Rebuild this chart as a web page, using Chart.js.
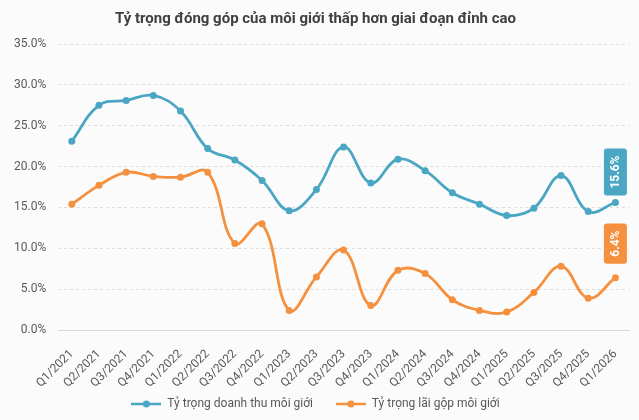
<!DOCTYPE html>
<html>
<head>
<meta charset="utf-8">
<script src="https://cdn.jsdelivr.net/npm/chart.js@4"></script>
<style>
  body { margin: 0; background: #fbfbfb; }
  #wrap { width: 639px; height: 420px; }
</style>
</head>
<body>
<div id="wrap"><canvas id="brokerChart"></canvas></div>
<script>
const quarters = ["Q1/2021", "Q2/2021", "Q3/2021", "Q4/2021", "Q1/2022", "Q2/2022", "Q3/2022", "Q4/2022",
  "Q1/2023", "Q2/2023", "Q3/2023", "Q4/2023", "Q1/2024", "Q2/2024", "Q3/2024", "Q4/2024",
  "Q1/2025", "Q2/2025", "Q3/2025", "Q4/2025", "Q1/2026"];
const revenueShare = [23.1, 27.5, 28.1, 28.7, 26.8, 22.2, 20.8, 18.3, 14.6, 17.2, 22.4, 18.0,
  20.9, 19.5, 16.8, 15.4, 14.0, 14.9, 18.9, 14.5, 15.6];
const grossProfitShare = [15.4, 17.7, 19.3, 18.8, 18.7, 19.3, 10.6, 13.0, 2.4, 6.5, 9.8, 3.0,
  7.3, 6.9, 3.7, 2.4, 2.2, 4.6, 7.8, 3.9, 6.4];

const blue = "#4aa6c2";
const orange = "#f5903f";

// legend icon: short line with a dot in the middle
function legendIcon(color) {
  const c = document.createElement("canvas");
  c.width = 30; c.height = 10;
  const g = c.getContext("2d");
  g.strokeStyle = color;
  g.lineWidth = 2.5;
  g.beginPath(); g.moveTo(0, 5); g.lineTo(30, 5); g.stroke();
  g.fillStyle = color;
  g.beginPath(); g.arc(15, 5, 3.5, 0, Math.PI * 2); g.fill();
  return c;
}

// rotated value box above the last point
const lastLabel = {
  id: "lastLabel",
  afterDatasetsDraw(chart) {
    const ctx = chart.ctx;
    chart.data.datasets.forEach((ds, i) => {
      const meta = chart.getDatasetMeta(i);
      const pt = meta.data[meta.data.length - 1];
      const text = ds.data[ds.data.length - 1].toFixed(1) + "%";
      ctx.save();
      ctx.font = "bold 12px Roboto";
      const tw = ctx.measureText(text).width;
      const w = 23, h = tw + 14;
      const gap = i === 0 ? 7 : 14;
      const x = pt.x - w / 2, y = pt.y - gap - h;
      ctx.fillStyle = ds.borderColor;
      ctx.beginPath();
      ctx.roundRect(x, y, w, h, 3);
      ctx.fill();
      ctx.translate(pt.x, y + h / 2);
      ctx.rotate(-Math.PI / 2);
      ctx.fillStyle = "#ffffff";
      ctx.textAlign = "center";
      ctx.textBaseline = "middle";
      ctx.fillText(text, 0, 1);
      ctx.restore();
    });
  }
};

const ctx = document.getElementById("brokerChart").getContext("2d");
new Chart(ctx, {
  type: "line",
  data: {
    labels: quarters,
    datasets: [
      {
        label: "Tỷ trọng doanh thu môi giới",
        data: revenueShare,
        borderColor: blue,
        backgroundColor: blue,
      },
      {
        label: "Tỷ trọng lãi gộp môi giới",
        data: grossProfitShare,
        borderColor: orange,
        backgroundColor: orange,
      },
    ],
  },
  options: {
    responsive: true,
    maintainAspectRatio: false,
    animation: false,
    layout: { padding: { left: 2, right: 10, top: 4, bottom: 0 } },
    elements: {
      line: { borderWidth: 2.8, tension: 0.4 },
      point: { radius: 3.5, pointStyle: "circle", borderWidth: 0 },
    },
    plugins: {
      title: {
        display: true,
        text: "Tỷ trọng đóng góp của môi giới thấp hơn giai đoạn đỉnh cao",
        color: "#404040",
        font: { family: "Roboto", size: 15, weight: "bold" },
        padding: { top: 6, bottom: 16 },
      },
      legend: {
        position: "bottom",
        labels: {
          usePointStyle: true,
          pointStyleWidth: 30,
          color: "#595959",
          font: { family: "Roboto", size: 12 },
          padding: 8,
          generateLabels(chart) {
            return chart.data.datasets.map((ds, i) => ({
              text: ds.label + (i === 0 ? "     " : ""),
              fillStyle: ds.borderColor,
              strokeStyle: ds.borderColor,
              fontColor: "#595959",
              pointStyle: legendIcon(ds.borderColor),
              datasetIndex: i,
              hidden: false,
            }));
          },
        },
      },
      tooltip: { enabled: false },
    },
    scales: {
      x: {
        offset: true,
        grid: { display: false },
        border: { color: "#d9d9d9" },
        afterFit(scale) { scale.height = 60; },
        ticks: {
          color: "#595959",
          font: { family: "Roboto", size: 12 },
          maxRotation: 45,
          minRotation: 45,
          autoSkip: false,
          padding: 9,
        },
      },
      y: {
        min: 0,
        max: 35,
        border: { display: false, dash: [3, 3] },
        grid: { color: "#dcdcdc", tickLength: 0 },
        ticks: {
          stepSize: 5,
          color: "#595959",
          font: { family: "Roboto", size: 12 },
          padding: 12,
          callback: (v) => v.toFixed(1) + "%",
        },
      },
    },
  },
  plugins: [lastLabel],
});
</script>
</body>
</html>
